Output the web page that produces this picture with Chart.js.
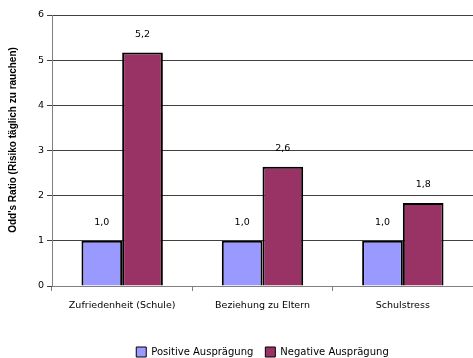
<!DOCTYPE html>
<html>
<head>
<meta charset="utf-8">
<script src="https://cdn.jsdelivr.net/npm/chart.js@4"></script>
<style>
  html, body { margin: 0; padding: 0; background: #fff; }
  #wrap { width: 473px; height: 358px; }
</style>
</head>
<body>
<div id="wrap"><canvas id="barChart" width="473" height="358"></canvas></div>
<script>
const categories = ["Zufriedenheit (Schule)", "Beziehung zu Eltern", "Schulstress"];
const positiveValues = [1.0, 1.0, 1.0];
const negativeValues = [5.17, 2.64, 1.84];
const yTicks = [0, 1, 2, 3, 4, 5, 6];
const yTitle = "Odd's Ratio (Risiko täglich zu rauchen)";

const FONT = "'DejaVu Sans', 'Liberation Sans', sans-serif";
const TITLE_FONT = "'Liberation Sans', Arial, sans-serif";

// value labels above the bars, German decimal comma
const valueLabels = {
  id: "valueLabels",
  afterDatasetsDraw(chart) {
    const ctx = chart.ctx;
    ctx.save();
    ctx.font = "9.5px " + FONT;
    ctx.fillStyle = "#000";
    ctx.textAlign = "center";
    ctx.textBaseline = "middle";
    chart.data.datasets.forEach((ds, i) => {
      chart.getDatasetMeta(i).data.forEach((bar, j) => {
        const txt = ds.data[j].toFixed(1).replace(".", ",");
        ctx.fillText(txt, bar.x, bar.y - 18);
      });
    });
    ctx.restore();
  }
};

// y title drawn by hand (sits a bit above the middle in the original),
// legend centred under the plot area instead of the canvas
const axisTitle = {
  id: "axisTitle",
  afterLayout(chart) {
    chart.legend.left = chart.chartArea.left;
  },
  afterDraw(chart) {
    const ctx = chart.ctx;
    ctx.save();
    ctx.translate(13, chart.chartArea.top + 125);
    ctx.rotate(-Math.PI / 2);
    ctx.font = "bold 10px " + TITLE_FONT;
    ctx.fillStyle = "#000";
    ctx.textAlign = "center";
    ctx.textBaseline = "middle";
    ctx.fillText(yTitle, 0, 0);
    ctx.restore();
  }
};

const CHART = document.getElementById("barChart");
let barChart = new Chart(CHART, {
  type: "bar",
  data: {
    labels: categories,
    datasets: [
      {
        label: "Positive Ausprägung",
        data: positiveValues,
        backgroundColor: "#9999FF",
        borderColor: "#000",
        borderWidth: 2,
        categoryPercentage: 0.58,
        barPercentage: 1.0,
      },
      {
        label: "Negative Ausprägung",
        data: negativeValues,
        backgroundColor: "#993366",
        borderColor: "#000",
        borderWidth: 2,
        categoryPercentage: 0.58,
        barPercentage: 1.0,
      },
    ],
  },
  options: {
    responsive: false,
    animation: false,
    layout: { padding: { top: 15, left: 26, right: 0, bottom: -9 } },
    plugins: {
      tooltip: { enabled: false },
      legend: {
        position: "bottom",
        labels: {
          boxWidth: 10,
          boxHeight: 10,
          padding: 12,
          color: "#000",
          font: { family: FONT, size: 10 },
          generateLabels(chart) {
            return chart.data.datasets.map((ds, i) => ({
              text: ds.label,
              fillStyle: ds.backgroundColor,
              strokeStyle: "#000",
              lineWidth: 1,
              datasetIndex: i,
            }));
          },
        },
      },
    },
    scales: {
      x: {
        grid: { drawOnChartArea: false, tickLength: 5, color: "#808080", offset: true },
        border: { color: "#808080" },
        ticks: { color: "#000", font: { family: FONT, size: 9.5 }, padding: 9, maxRotation: 0 },
        afterFit(scale) { scale.height = 49; },
      },
      y: {
        min: 0,
        max: 6,
        afterBuildTicks(scale) { scale.ticks = yTicks.map(v => ({ value: v })); },
        grid: { color: "#404040", tickLength: 5 },
        border: { color: "#808080" },
        ticks: { color: "#000", font: { family: FONT, size: 9.5 }, padding: 3 },
        afterFit(scale) { scale.width = 26; },
      },
    },
  },
  plugins: [valueLabels, axisTitle],
});
</script>
</body>
</html>
